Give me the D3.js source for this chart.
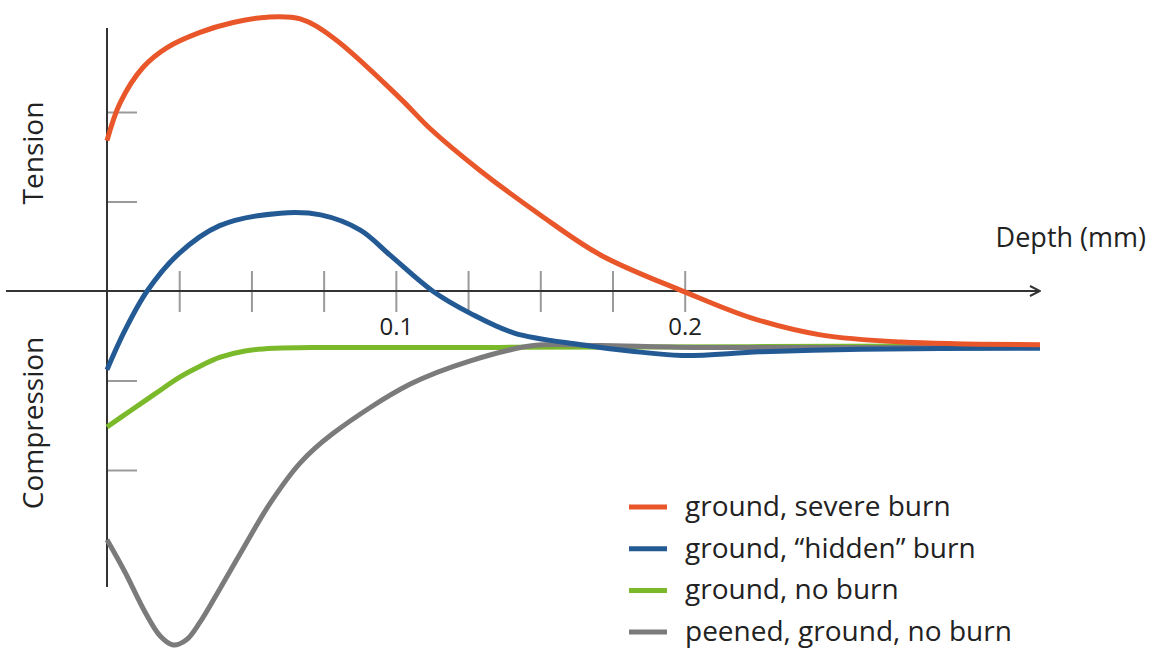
<!DOCTYPE html>
<html>
<head>
<meta charset="utf-8">
<script src="https://d3js.org/d3.v7.min.js"></script>
<style>
body { margin: 0; background: #fff; }
text { font-family: "Open Sans", "Noto Sans", sans-serif; fill: #222; }
</style>
</head>
<body>
<div id="chart"></div>
<script>
// depth (mm) vs residual stress (arbitrary units)
var severeBurn = [[0,1.68],[0.0045,2.10],[0.0125,2.50],[0.0208,2.72],[0.0322,2.89],[0.0437,3.00],[0.0555,3.06],[0.0669,3.04],[0.0783,2.83],[0.1016,2.15],[0.112,1.81],[0.129,1.35],[0.150,0.85],[0.171,0.40],[0.200,-0.01],[0.223,-0.30],[0.247,-0.49],[0.275,-0.57],[0.323,-0.60]];
var hiddenBurn = [[0,-0.88],[0.0062,-0.44],[0.0139,0],[0.0246,0.41],[0.039,0.73],[0.06,0.87],[0.074,0.85],[0.0877,0.68],[0.098,0.40],[0.1127,0],[0.1258,-0.25],[0.141,-0.47],[0.164,-0.60],[0.181,-0.67],[0.199,-0.72],[0.226,-0.68],[0.261,-0.65],[0.323,-0.64]];
var noBurn = [[0,-1.52],[0.008,-1.34],[0.0166,-1.15],[0.0253,-0.96],[0.0322,-0.84],[0.0392,-0.74],[0.0478,-0.67],[0.0582,-0.64],[0.0738,-0.63],[0.136,-0.63],[0.323,-0.61]];
var peened = [[0,-2.78],[0.0062,-3.14],[0.0132,-3.59],[0.0184,-3.855],[0.0229,-3.955],[0.0274,-3.90],[0.0322,-3.70],[0.0392,-3.32],[0.0478,-2.84],[0.0565,-2.37],[0.0669,-1.92],[0.0783,-1.59],[0.105,-1.04],[0.1258,-0.78],[0.1477,-0.61],[0.171,-0.61],[0.2055,-0.63],[0.2575,-0.63],[0.323,-0.63]];

var seriesNames = ["ground, severe burn", "ground, \u201chidden\u201d burn", "ground, no burn", "peened, ground, no burn"];
var seriesColors = ["#e8562a", "#235a94", "#7ab929", "#7b7b7b"];
var xTicks = [0.025, 0.05, 0.075, 0.1, 0.125, 0.15, 0.175, 0.2];
var xLabels = [0.1, 0.2];
var yTicks = [-2, -1, 1, 2];

var width = 1152, height = 655;

var svg = d3.select("#chart").append("svg")
	.attr("width", width)
	.attr("height", height);

var x = d3.scaleLinear().domain([0, 0.323]).range([107, 1040]);
var y = d3.scaleLinear().domain([-4, 3]).range([649, 22.5]);

// arrow head
svg.append("defs").append("marker")
	.attr("id", "arrow")
	.attr("viewBox", "0 0 12 12")
	.attr("refX", 11).attr("refY", 6)
	.attr("markerWidth", 12).attr("markerHeight", 12)
	.attr("markerUnits", "userSpaceOnUse")
	.attr("orient", "auto")
	.append("path")
	.attr("d", "M1,1L11,6L1,11")
	.attr("fill", "none")
	.attr("stroke", "#333")
	.attr("stroke-width", 2);

// x ticks crossing the axis
var xAxis = svg.append("g")
	.attr("transform", "translate(0," + y(0) + ")")
	.call(d3.axisBottom(x).tickValues(xTicks).tickSize(21)
		.tickFormat(d => xLabels.indexOf(d) >= 0 ? d3.format(".1f")(d) : ""));
xAxis.select(".domain").remove();
xAxis.selectAll(".tick line").attr("y1", -20).attr("stroke", "#9a9a9a").attr("stroke-width", 2);
xAxis.selectAll(".tick text").attr("y", 27).attr("font-size", 24).attr("fill", "#222")
	.style("font-family", "'Open Sans', sans-serif");

// y ticks crossing the axis
var yAxis = svg.append("g")
	.attr("transform", "translate(" + x(0) + ",0)")
	.call(d3.axisLeft(y).tickValues(yTicks).tickSize(32).tickFormat(""));
yAxis.select(".domain").remove();
yAxis.selectAll(".tick line").attr("x2", 30).attr("stroke", "#9a9a9a").attr("stroke-width", 2);

// axis lines
svg.append("line")
	.attr("x1", 6).attr("x2", 1040)
	.attr("y1", y(0)).attr("y2", y(0))
	.attr("stroke", "#333").attr("stroke-width", 2)
	.attr("marker-end", "url(#arrow)");
svg.append("line")
	.attr("x1", x(0)).attr("x2", x(0))
	.attr("y1", 28).attr("y2", 587)
	.attr("stroke", "#333").attr("stroke-width", 2);

// curves
var line = d3.line()
	.x(d => x(d[0]))
	.y(d => y(d[1]))
	.curve(d3.curveCatmullRom.alpha(0.5));

var allSeries = [noBurn, peened, hiddenBurn, severeBurn];
var allColors = [seriesColors[2], seriesColors[3], seriesColors[1], seriesColors[0]];
svg.append("g").selectAll("path")
	.data(allSeries)
	.join("path")
	.attr("d", line)
	.attr("fill", "none")
	.attr("stroke", (d, i) => allColors[i])
	.attr("stroke-width", 5)
	.attr("stroke-linecap", "butt");

// axis titles
svg.append("text")
	.attr("transform", "translate(43,153) rotate(-90)")
	.attr("text-anchor", "middle")
	.attr("font-size", 28)
	.text("Tension");
svg.append("text")
	.attr("transform", "translate(43,423) rotate(-90)")
	.attr("text-anchor", "middle")
	.attr("font-size", 28)
	.text("Compression");
svg.append("text")
	.attr("x", 1146).attr("y", 247)
	.attr("text-anchor", "end")
	.attr("font-size", 27)
	.text("Depth (mm)");

// legend
var legend = svg.append("g").selectAll("g")
	.data(seriesNames)
	.join("g")
	.attr("transform", (d, i) => "translate(629," + (507 + i * 41.7) + ")");
legend.append("line")
	.attr("x1", 0).attr("x2", 38)
	.attr("stroke", (d, i) => seriesColors[i])
	.attr("stroke-width", 5);
legend.append("text")
	.attr("x", 56).attr("y", 9)
	.attr("font-size", 28)
	.text(d => d);
</script>
</body>
</html>
